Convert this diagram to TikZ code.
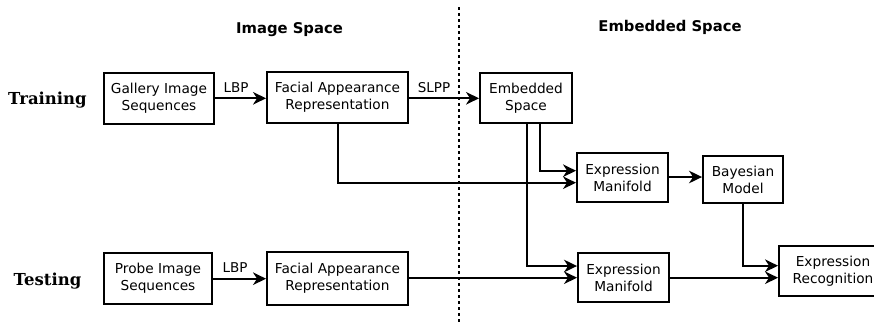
\documentclass[tikz,border=0pt]{standalone}
\usepackage{fontspec}
\setmainfont{DejaVu Sans}
\newfontfamily\lblserif{DejaVu Serif}
\usetikzlibrary{arrows.meta}
\begin{document}
\begin{tikzpicture}[x=1bp,y=-1bp,
  box/.style={draw,line width=1.9bp,rectangle,align=center,inner sep=0pt,
    font=\fontsize{13.7bp}{17bp}\selectfont},
  conn/.style={line width=1.9bp,-{Stealth[length=13bp,width=12.5bp,inset=4bp]}},
  lab/.style={font=\fontsize{13.5bp}{16bp}\selectfont,anchor=base,inner sep=0pt},
  title/.style={font=\fontsize{14.8bp}{17bp}\selectfont\bfseries,anchor=base,inner sep=0pt},
  side/.style={font=\fontsize{16.5bp}{19bp}\selectfont\lblserif\bfseries,anchor=base,inner sep=0pt}]
\useasboundingbox (0,0) rectangle (874,322);
% titles
\node[title] (tImg) at (289.5,33.3) {Image Space};
\node[title] (tEmb) at (670,31) {Embedded Space};
\node[side] (tTrain) at (47.5,104) {Training};
\node[side] (tTest) at (47.5,285) {Testing};
% dotted divider
\coordinate (dtop) at (459.3,7);
\coordinate (dbot) at (459.3,322);
\draw[line width=1.9bp,dash pattern=on 3bp off 3bp] (dtop) -- (dbot);
% boxes
\node[box,minimum width=110bp,minimum height=51bp] (gal) at (159,98.5) {Gallery Image\\Sequences};
\node[box,minimum width=141bp,minimum height=51bp] (fartr) at (337.5,97.5) {Facial Appearance\\Representation};
\node[box,minimum width=92bp,minimum height=50bp] (emb) at (526,98) {Embedded\\Space};
\node[box,minimum width=91bp,minimum height=49bp] (emtr) at (622.5,177.5) {Expression\\Manifold};
\node[box,minimum width=80bp,minimum height=47bp] (bay) at (743,179.5) {Bayesian\\Model};
\node[box,minimum width=108bp,minimum height=51bp] (probe) at (158,278.5) {Probe Image\\Sequences};
\node[box,minimum width=141bp,minimum height=53bp] (farte) at (337.5,278.5) {Facial Appearance\\Representation};
\node[box,minimum width=91bp,minimum height=49bp] (emte) at (623.5,277.5) {Expression\\Manifold};
\node[box,minimum width=108bp,minimum height=50bp] (rec) at (833,271) {Expression\\Recognition};
% connectors
\draw[conn] (gal.east |- 0,98.3) -- (fartr.west |- 0,98.3);
\draw[conn] (fartr.east |- 0,98.3) -- (emb.west |- 0,98.3);
\draw[conn] (probe.east |- 0,278.7) -- (farte.west |- 0,278.7);
\draw[conn] (fartr.south -| 337.7,0) |- (emtr.west |- 0,182.7);
\draw[conn] (emb.south -| 540,0) |- (emtr.west |- 0,170.7);
\draw[conn] (emb.south -| 526.7,0) |- (emte.west |- 0,266);
\draw[conn] (farte.east |- 0,277.7) -- (emte.west |- 0,277.7);
\draw[conn] (emtr.east |- 0,177) -- (bay.west |- 0,177);
\draw[conn] (bay.south -| 743,0) |- (rec.west |- 0,265.7);
\draw[conn] (emte.east |- 0,277.7) -- (rec.west |- 0,277.7);
% labels
\node[lab] (lbp1) at (236,92) {LBP};
\node[lab] (slpp) at (434,92) {SLPP};
\node[lab] (lbp2) at (235,272) {LBP};
\end{tikzpicture}
\end{document}
